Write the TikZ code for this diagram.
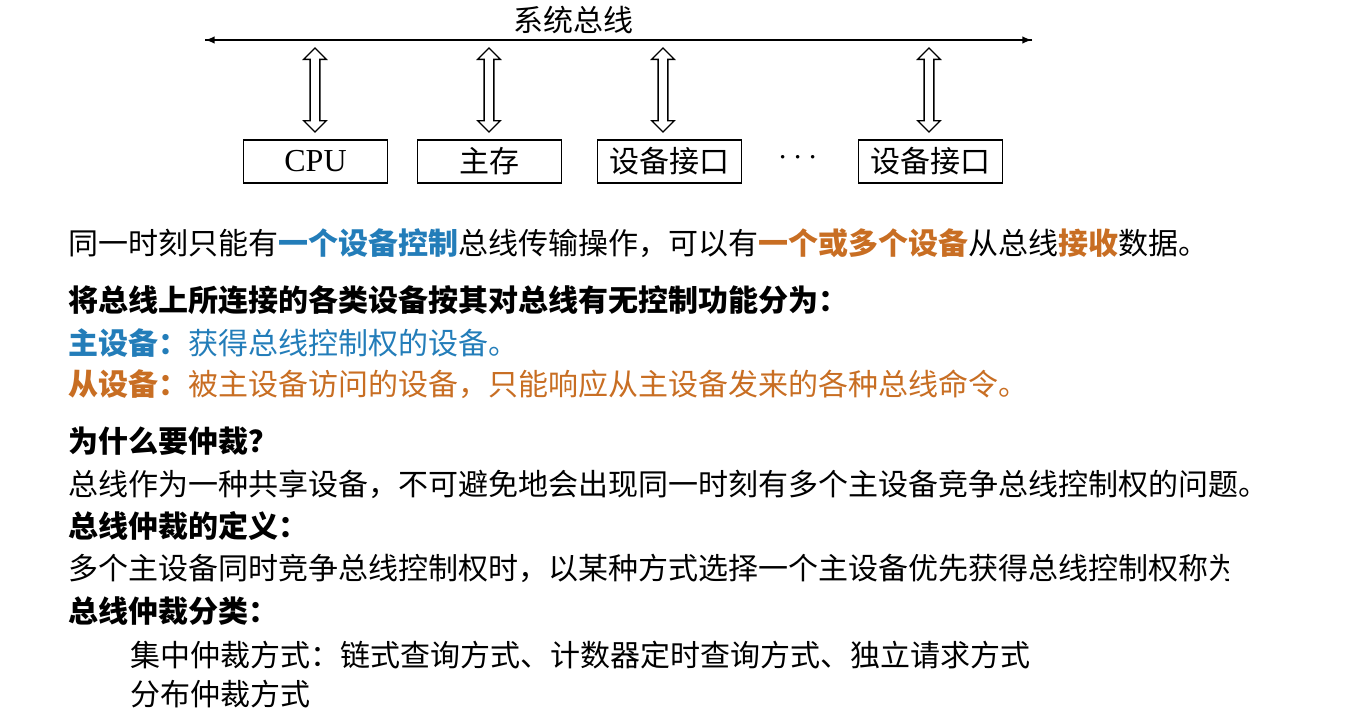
\documentclass[tikz,border=0pt]{standalone}
\usepackage{fontspec}
\setmainfont{Liberation Serif}
\newfontfamily\cjk{Noto Sans CJK SC}
\usetikzlibrary{shapes.arrows}
\definecolor{zblue}{RGB}{35,125,185}
\definecolor{zorange}{RGB}{200,110,35}
\tikzset{
  unitbox/.style={draw, line width=1.2pt, minimum width=108pt, minimum height=32pt, inner sep=0pt, font=\fontsize{22.5}{24}\selectfont\cjk},
  linktip/.style={double arrow, draw, line width=1pt, rotate=90, minimum height=63pt, minimum width=17pt, double arrow head extend=4pt, inner sep=2.5pt},
  para/.style={anchor=west, inner sep=0pt, font=\fontsize{22.5}{24}\selectfont\cjk},
  bold para/.style={para, font=\fontsize{22.5}{24}\selectfont\cjk\bfseries}
}
\begin{document}
\begin{tikzpicture}[x=0.75pt,y=0.75pt,yscale=-1,xscale=1]
\useasboundingbox (0,0) rectangle (1345,725);

% bus
\coordinate (busL) at (205,40);
\coordinate (busR) at (1032,40);
\draw [line width=1.5pt, -latex] (busL) -- (busR);
\draw [line width=1.5pt, -latex] (busR) -- (busL);
\node (busname) at (573,20) [font=\fontsize{22.5}{24}\selectfont\cjk] {系统总线};

% units
\node (cpu) at (315.5,161.5) [unitbox] {\rmfamily\fontsize{24}{26}\selectfont CPU};
\node (mem) at (489.5,161.5) [unitbox] {主存};
\node (io1) at (669.5,161.5) [unitbox] {设备接口};
\node (io2) at (930.5,161.5) [unitbox] {设备接口};
\node (dots) at (798,158) [font=\fontsize{24}{26}\selectfont] {$\cdots$};

% links
\node (lk1) at (315,90) [linktip] {};
\node (lk2) at (489,90) [linktip] {};
\node (lk3) at (663,90) [linktip] {};
\node (lk4) at (929,90) [linktip] {};

% text
\node (t1) at (68,243) [para] {同一时刻只能有\textcolor{zblue}{\bfseries 一个设备控制}总线传输操作，可以有\textcolor{zorange}{\bfseries 一个或多个设备}从总线\textcolor{zorange}{\bfseries 接收}数据。};
\node (t2) at (68,300) [bold para] {将总线上所连接的各类设备按其对总线有无控制功能分为：};
\node (t3) at (68,343) [para, text=zblue] {\bfseries 主设备：\mdseries 获得总线控制权的设备。};
\node (t4) at (68,384) [para, text=zorange] {\bfseries 从设备：\mdseries 被主设备访问的设备，只能响应从主设备发来的各种总线命令。};
\node (t5) at (68,441) [bold para] {为什么要仲裁？};
\node (t6) at (68,484) [para] {总线作为一种共享设备，不可避免地会出现同一时刻有多个主设备竞争总线控制权的问题。};
\node (t7) at (68,526) [bold para] {总线仲裁的定义：};
\begin{scope}
\clip (0,500) rectangle (1228,600);
\node (t8) at (68,568) [para] {多个主设备同时竞争总线控制权时，以某种方式选择一个主设备优先获得总线控制权称为};
\end{scope}
\node (t9) at (68,611) [bold para] {总线仲裁分类：};
\node (t10) at (130,655) [para] {集中仲裁方式：链式查询方式、计数器定时查询方式、独立请求方式};
\node (t11) at (130,694) [para] {分布仲裁方式};
\end{tikzpicture}
\end{document}
